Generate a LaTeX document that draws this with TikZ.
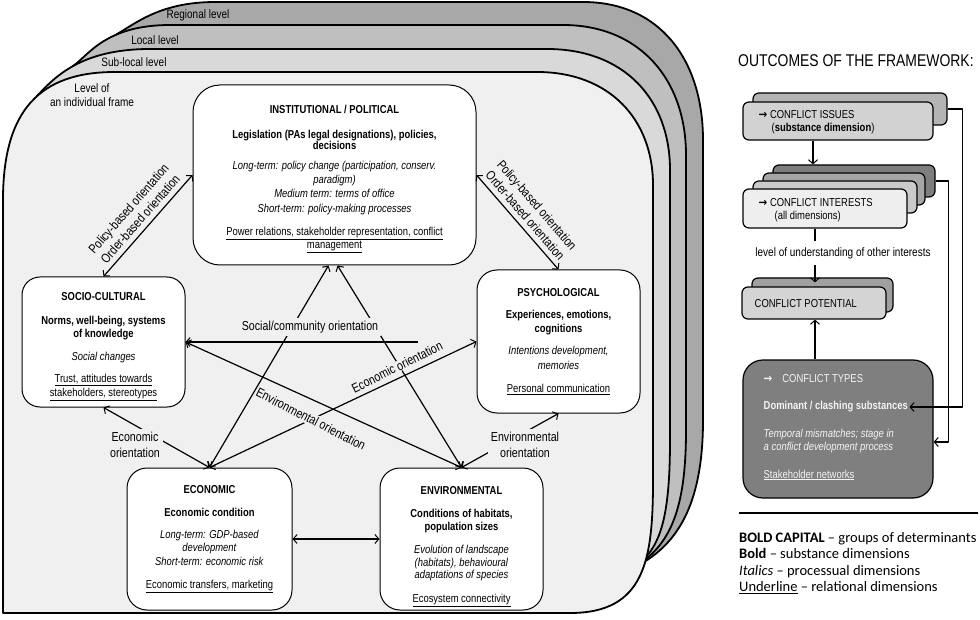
\documentclass[tikz,border=0pt]{standalone}
\usepackage{fontspec}
\setmainfont{Liberation Sans}[FakeStretch=0.82]
\newfontfamily\legendfont{Carlito}
\newfontfamily\arrowfont{DejaVu Sans}[FakeStretch=0.9]
\usetikzlibrary{arrows.meta}
\definecolor{regfill}{HTML}{A8A8A8}
\definecolor{locfill}{HTML}{BFBFBF}
\definecolor{subfill}{HTML}{D9D9D9}
\definecolor{indfill}{HTML}{F0F0F0}
\definecolor{gIssB}{HTML}{B4B4B4}
\definecolor{gIssF}{HTML}{D2D2D2}
\definecolor{gIntA}{HTML}{7E7E7E}
\definecolor{gIntB}{HTML}{A6A6A6}
\definecolor{gIntC}{HTML}{CACACA}
\definecolor{gIntD}{HTML}{EEEEEE}
\definecolor{gPotB}{HTML}{A0A0A0}
\definecolor{gPotF}{HTML}{D4D4D4}
\definecolor{gTyp}{HTML}{7F7F7F}
\definecolor{typtext}{HTML}{F4F4F4}
\newcommand{\boxfont}{\fontsize{11.5}{14.3}\selectfont}
\newcommand{\rarr}{{\arrowfont\bfseries →}}
\tikzset{
  tip/.tip={Straight Barb[length=4pt,width=9pt,line width=1pt]},
  arr/.style={-tip},
  darr/.style={tip-tip},
  conn/.style={line width=1.2pt},
  levelframe/.style={draw, line width=1.8pt},
  mainbox/.style={draw, line width=1pt, fill=white, align=center, inner sep=0pt, font=\boxfont},
  olabel/.style={font=\fontsize{13}{15.6}\selectfont, inner sep=1pt},
  lvl/.style={font=\fontsize{12.2}{14}\selectfont, inner sep=0pt, align=center},
  rbox/.style={draw, line width=1.2pt, rounded corners=6pt, inner sep=0pt},
  rtext/.style={font=\fontsize{11.5}{13.8}\selectfont, inner sep=1.5pt, anchor=west, align=left},
  rline/.style={line width=1.3pt}
}
\begin{document}
\begin{tikzpicture}[x=1pt,y=-1pt,line join=round]
\useasboundingbox (0,0) rectangle (980,620);
% level frames (back to front)
\path[levelframe, fill=regfill] (3,560) -- (3,200) -- (117,34) .. controls (135,24) and (160,2) .. (215,2) -- (583,2) .. controls (660,2) and (703,60) .. (703,140) -- (703,420) .. controls (703,500) and (680,540) .. (644,562) -- cycle;
\path[levelframe, fill=locfill] (3,560) -- (3,200) -- (73,66) .. controls (88,56) and (105,25) .. (170,25) -- (563,25) .. controls (640,25) and (686,80) .. (686,155) -- (686,430) .. controls (686,505) and (672,538) .. (645,560) -- cycle;
\path[levelframe, fill=subfill] (3,560) -- (3,200) -- (37,96) .. controls (54,78) and (80,49) .. (150,49) -- (547,49) .. controls (625,49) and (670,100) .. (670,170) -- (670,440) .. controls (670,510) and (662,540) .. (645,558) -- cycle;
\path[levelframe, fill=indfill] (3,613) -- (3,200) .. controls (3,110) and (40,72) .. (115,72) -- (537,72) .. controls (610,72) and (653,120) .. (653,185) -- (653,480) .. controls (653,560) and (645,613) .. (570,613) -- cycle;
\node[lvl] (lreg) at (198,15) {Regional level};
\node[lvl] (lloc) at (155,40) {Local level};
\node[lvl] (lsub) at (134,62) {Sub-local level};
\node[lvl] (lind) at (92,95) {Level of\\an individual frame};

% main boxes
\node[mainbox, rounded corners=27pt, minimum width=283pt, minimum height=180pt] (inst) at (334.5,175) {%
\rule{0pt}{15.5pt}\textbf{INSTITUTIONAL / POLITICAL}\\[10.7pt]
\textbf{Legislation (PAs legal designations), policies,}\\[-2.6pt]
\textbf{decisions}\\[5pt]
\textit{Long-term: policy change (participation, conserv.}\\
\textit{paradigm)}\\
\textit{Medium term: terms of office}\\
\textit{Short-term: policy-making processes}\\[8.7pt]
\underline{Power relations, stakeholder representation, conflict}\\[-1.3pt]
\underline{management}};

\node[mainbox, rounded corners=18pt, minimum width=163pt, minimum height=130pt] (socio) at (103.5,342) {%
\rule{0pt}{17.5pt}\textbf{SOCIO-CULTURAL}\\[9.7pt]
\textbf{Norms, well-being, systems}\\[-1.3pt]
\textbf{of knowledge}\\[8.7pt]
\textit{Social changes}\\[7.7pt]
\underline{Trust, attitudes towards}\\
\underline{stakeholders, stereotypes}};

\node[mainbox, rounded corners=20pt, minimum width=163pt, minimum height=143pt] (psych) at (558.5,341.5) {%
\textbf{PSYCHOLOGICAL}\\[7.7pt]
\textbf{Experiences, emotions,}\\
\textbf{cognitions}\\[7.7pt]
\textit{Intentions development,}\\
\textit{memories}\\[8.7pt]
\underline{Personal communication}};

\node[mainbox, rounded corners=20pt, minimum width=165pt, minimum height=142pt] (econ) at (209.5,539) {%
\textbf{ECONOMIC}\\[8.7pt]
\textbf{Economic condition}\\[7.7pt]
\textit{Long-term: GDP-based}\\[-1.3pt]
\textit{development}\\
\textit{Short-term: economic risk}\\[8.7pt]
\underline{Economic transfers, marketing}};

\node[mainbox, rounded corners=20pt, minimum width=163pt, minimum height=142pt] (env) at (461.5,539) {%
\rule{0pt}{24pt}\textbf{ENVIRONMENTAL}\\[8.7pt]
\textbf{Conditions of habitats,}\\[-1.3pt]
\textbf{population sizes}\\[8.7pt]
\textit{Evolution of landscape}\\[-1.3pt]
\textit{(habitats), behavioural}\\[-2.3pt]
\textit{adaptations of species}\\[9.7pt]
\underline{Ecosystem connectivity}};

% connectors
\draw[conn, darr] (socio.north) -- node[sloped, above=4pt, olabel, align=center] (lpolL) {Policy-based orientation\\Order-based orientation} (inst.west);
\draw[conn, darr] (inst.east) -- node[sloped, above=4pt, olabel, align=center] (lpolR) {Policy-based orientation\\Order-based orientation} (psych.north);
\draw[conn, darr] (econ.north) -- ([xshift=-6pt]inst.south);
\draw[conn, darr] (env.north) -- ([xshift=3pt]inst.south);
\coordinate (hend) at (418,342);
\draw[conn, arr] (hend) -- (socio.east);
\draw[conn, darr] (socio.east) -- (env.north);
\draw[conn, darr] (econ.north) -- (psych.west);
\draw[conn, darr] (socio.south) -- (econ.north);
\draw[conn, darr] (psych.south) -- (env.north);
\draw[conn, darr] (econ.east) -- (env.west);

% orientation labels
\node[olabel, fill=indfill, inner sep=3pt] (lsoc) at (310,327) {Social/community orientation};
\node[olabel, fill=indfill, inner ysep=1.5pt, rotate=-27] (lenv) at (311,419) {Environmental orientation};
\node[olabel, fill=indfill, inner ysep=0.5pt, rotate=26.6] (leco) at (397,367) {Economic orientation};
\node[olabel, fill=indfill, align=center, inner sep=3pt] (leco2) at (135,445) {Economic\\orientation};
\node[olabel, fill=indfill, align=center, inner sep=3pt] (lenv2) at (525,445) {Environmental\\orientation};

% right panel
\node[anchor=west, font=\fontsize{17}{20}\selectfont, inner sep=0pt] (title) at (738,61) {OUTCOMES OF THE FRAMEWORK:};

\node[rbox, fill=gIssB, minimum width=194pt, minimum height=32pt] (issb) at (850,109) {};
\node[rbox, fill=gIssF, minimum width=190pt, minimum height=38pt] (issf) at (838,121) {};
\node[rtext] (isst1) at (757,115) {\rarr\ CONFLICT ISSUES};
\node[rtext] (isst2) at (770,129) {(\textbf{substance dimension})};

\node[rbox, fill=gIntA, minimum width=162pt, minimum height=32pt] (int4) at (854,181) {};
\node[rbox, fill=gIntB, minimum width=162pt, minimum height=32pt] (int3) at (844,189) {};
\node[rbox, fill=gIntC, minimum width=164pt, minimum height=32pt] (int2) at (835,197) {};
\node[rbox, fill=gIntD, minimum width=164pt, minimum height=39pt] (int1) at (825,208.5) {};
\node[rtext] (intt1) at (757,203) {\rarr\ CONFLICT INTERESTS};
\node[rtext] (intt2) at (773,217) {(all dimensions)};

\node[rtext, anchor=center, font=\fontsize{12.2}{14}\selectfont] (und) at (843,253) {level of understanding of other interests};

\node[rbox, fill=gPotB, minimum width=141pt, minimum height=34pt] (potb) at (822.5,295) {};
\node[rbox, fill=gPotF, minimum width=144pt, minimum height=32pt] (potf) at (814,303) {};
\node[rtext] (pott) at (753,304) {CONFLICT POTENTIAL};

\node[rbox, fill=gTyp, rounded corners=20pt, minimum width=190pt, minimum height=138pt] (types) at (838,429) {};
\node[rtext, text=typtext] (typt) at (762,379) {\rarr\hspace{10pt}CONFLICT TYPES};
\node[rtext, text=typtext] (tdom) at (762,407) {\textbf{Dominant / clashing substances}};
\node[rtext, text=typtext] (ttemp) at (762,441) {\textit{Temporal mismatches; stage in}\\\textit{a conflict development process}};
\node[rtext, text=typtext] (tnet) at (762,475) {\underline{Stakeholder networks}};

\draw[rline, arr] (issb.east) -- ++(15,0) |- (tdom.east);
\draw[rline, arr] (int4.east) -- ++(13,0) |- ([yshift=-13pt]types.east);
\draw[rline, arr] ([xshift=-25pt]issf.south) -- ([xshift=-25pt]issf.south |- int4.north);
\draw[rline] ([xshift=-10pt]int1.south) -- ++(0,12);
\draw[rline, arr] ([xshift=-28pt,yshift=-5pt]und.south) -- ([xshift=-28pt,yshift=-5pt]und.south |- potb.north);
\draw[rline, arr] ([xshift=-23pt]types.north) -- ([xshift=-23pt]types.north |- potf.south);

% legend
\coordinate (legL) at (739,513);
\coordinate (legR) at (978,513);
\draw[line width=1.5pt] (legL) -- (legR);
\node[anchor=west, align=left, inner sep=0pt, font=\legendfont\fontsize{14.5}{16.3}\selectfont] (legend) at (739,563) {%
\textbf{BOLD CAPITAL} – groups of determinants\\
\textbf{Bold} – substance dimensions\\
\textit{Italics} – processual dimensions\\
\underline{Underline} – relational dimensions};
\end{tikzpicture}
\end{document}
